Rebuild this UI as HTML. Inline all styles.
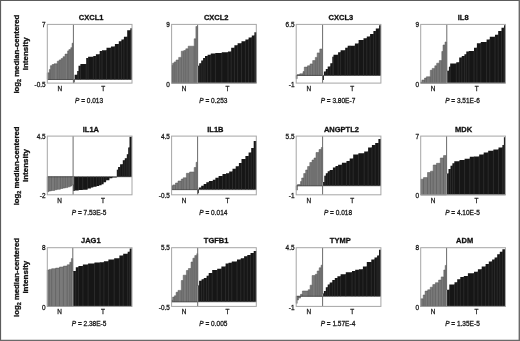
<!DOCTYPE html><html><head><meta charset="utf-8"><style>html,body{margin:0;padding:0;background:#fff;}svg{display:block;filter:grayscale(1) blur(0.35px);}text{font-family:"Liberation Sans",sans-serif;}</style></head><body>
<svg width="520" height="341" viewBox="0 0 520 341">
<rect x="0" y="0" width="520" height="341" fill="#fff"/>
<path d="M0,0.55 H520 M0.55,0 V341" stroke="#5c5c5c" stroke-width="1.1" fill="none"/>
<path d="M0,340.4 H520" stroke="#6a6a6a" stroke-width="1.3" fill="none"/>
<path d="M519.3,0 V341" stroke="#6a6a6a" stroke-width="1.4" fill="none"/>
<path fill="#7a7a7a" stroke="#555" stroke-width="0.5" d="M47.3,79.5 L47.3,72.8 L49.3,72.8 L49.3,69.6 L50.4,69.6 L50.4,65.7 L52.1,65.7 L52.1,64.5 L54,64.5 L54,63.8 L57.3,63.8 L57.3,61.2 L59.2,61.2 L59.2,59.9 L61.1,59.9 L61.1,58.6 L63,58.6 L63,56.7 L65,56.7 L65,54.1 L67.6,54.1 L67.6,50.9 L68.9,50.9 L68.9,49.6 L70.8,49.6 L70.8,47.7 L72.1,47.7 L72.1,43.2 L73.1,43.2 L73.1,79.5 Z"/><path fill="none" stroke="#5a5a5a" stroke-width="0.6" d="M49.3,72.8 V79.5 M50.4,69.6 V79.5 M52.1,65.7 V79.5 M54,64.5 V79.5 M57.3,63.8 V79.5 M59.2,61.2 V79.5 M61.1,59.9 V79.5 M63,58.6 V79.5 M65,56.7 V79.5 M67.6,54.1 V79.5 M68.9,50.9 V79.5 M70.8,49.6 V79.5 M72.1,47.7 V79.5"/><path fill="#161616" d="M73.4,79.5 L73.4,82.6 L74.6,82.6 L74.6,74.8 L77.2,74.8 L77.2,71 L78.5,71 L78.5,65.8 L80.4,65.8 L80.4,63.9 L86.2,63.9 L86.2,58 L88.1,58 L88.1,56.8 L93.3,56.8 L93.3,56.1 L95.9,56.1 L95.9,54.2 L99.7,54.2 L99.7,51 L102,51 L102,50.3 L106.5,50.3 L106.5,47.7 L111,47.7 L111,46.5 L114.9,46.5 L114.9,43.9 L118.8,43.9 L118.8,41.3 L121.4,41.3 L121.4,39.4 L123.9,39.4 L123.9,36.8 L127.2,36.8 L127.2,30.2 L130.4,30.2 L130.4,28.2 L131.9,28.2 L131.9,79.5 Z"/><path fill="none" stroke="#333" stroke-width="0.7" d="M77.2,74.8 V79.5 M78.5,71 V79.5 M80.4,65.8 V79.5 M86.2,63.9 V79.5 M88.1,58 V79.5 M93.3,56.8 V79.5 M95.9,56.1 V79.5 M99.7,54.2 V79.5 M102,51 V79.5 M106.5,50.3 V79.5 M111,47.7 V79.5 M114.9,46.5 V79.5 M118.8,43.9 V79.5 M121.4,41.3 V79.5 M123.9,39.4 V79.5 M127.2,36.8 V79.5 M130.4,30.2 V79.5"/><line x1="47.3" y1="79.5" x2="132" y2="79.5" stroke="#333" stroke-width="0.6"/><line x1="73.4" y1="24.4" x2="73.4" y2="83.1" stroke="#6c6c6c" stroke-width="1"/>
<rect x="47.3" y="24.4" width="84.7" height="58.7" fill="none" stroke="#a6a6a6" stroke-width="1"/>
<text transform="translate(91.15,20.2) scale(0.94,1)" font-size="8" font-weight="bold" text-anchor="middle" fill="#111" stroke="#111" stroke-width="0.3">CXCL1</text>
<text transform="translate(45.6,26.9) scale(0.92,1)" font-size="7" text-anchor="end" fill="#1a1a1a" stroke="#1a1a1a" stroke-width="0.3">7</text>
<text transform="translate(45.6,86.6) scale(0.92,1)" font-size="7" text-anchor="end" fill="#1a1a1a" stroke="#1a1a1a" stroke-width="0.3">-0.5</text>
<text transform="translate(59.75,90.8) scale(0.92,1)" font-size="7" text-anchor="middle" fill="#1a1a1a" stroke="#1a1a1a" stroke-width="0.3">N</text>
<text transform="translate(103.2,90.8) scale(0.92,1)" font-size="7" text-anchor="middle" fill="#1a1a1a" stroke="#1a1a1a" stroke-width="0.3">T</text>
<text transform="translate(89.05,103) scale(0.92,1)" font-size="7.1" text-anchor="middle" fill="#1a1a1a" stroke="#1a1a1a" stroke-width="0.3"><tspan font-style="italic">P</tspan> = 0.013</text>
<path fill="#7a7a7a" stroke="#555" stroke-width="0.5" d="M171.6,83.1 L171.6,65.2 L172.6,65.2 L172.6,63.2 L174.2,63.2 L174.2,61.9 L176.1,61.9 L176.1,60 L178.7,60 L178.7,57.4 L181.3,57.4 L181.3,51.2 L183.8,51.2 L183.8,50.5 L185.8,50.5 L185.8,48.8 L188.2,48.8 L188.2,46.2 L194.2,46.2 L194.2,38.8 L195.9,38.8 L195.9,26.5 L197.6,26.5 L197.6,83.1 Z"/><path fill="none" stroke="#5a5a5a" stroke-width="0.6" d="M172.6,65.2 V83.1 M174.2,63.2 V83.1 M176.1,61.9 V83.1 M178.7,60 V83.1 M181.3,57.4 V83.1 M183.8,51.2 V83.1 M185.8,50.5 V83.1 M188.2,48.8 V83.1 M194.2,46.2 V83.1 M195.9,38.8 V83.1"/><path fill="#161616" d="M197.6,83.1 L197.6,65.8 L199.2,65.8 L199.2,63.2 L201.2,63.2 L201.2,60.6 L203.1,60.6 L203.1,58.1 L205,58.1 L205,56.1 L207.6,56.1 L207.6,54.8 L210.8,54.8 L210.8,53.5 L215.4,53.5 L215.4,52.9 L221.8,52.9 L221.8,52.3 L228,52.3 L228,51.6 L231.2,51.6 L231.2,47.7 L234.4,47.7 L234.4,45.2 L237.6,45.2 L237.6,43.2 L241.5,43.2 L241.5,41.3 L245.4,41.3 L245.4,39.4 L248.6,39.4 L248.6,37.4 L251.8,37.4 L251.8,35.5 L254.4,35.5 L254.4,32.3 L256.7,32.3 L256.7,83.1 Z"/><path fill="none" stroke="#333" stroke-width="0.7" d="M199.2,65.8 V83.1 M201.2,63.2 V83.1 M203.1,60.6 V83.1 M205,58.1 V83.1 M207.6,56.1 V83.1 M210.8,54.8 V83.1 M215.4,53.5 V83.1 M221.8,52.9 V83.1 M228,52.3 V83.1 M231.2,51.6 V83.1 M234.4,47.7 V83.1 M237.6,45.2 V83.1 M241.5,43.2 V83.1 M245.4,41.3 V83.1 M248.6,39.4 V83.1 M251.8,37.4 V83.1 M254.4,35.5 V83.1"/><line x1="171.6" y1="83.1" x2="256.3" y2="83.1" stroke="#333" stroke-width="0.6"/><line x1="197.6" y1="24.4" x2="197.6" y2="83.1" stroke="#6c6c6c" stroke-width="1"/><line x1="197.6" y1="66.1" x2="197.6" y2="82.8" stroke="#9a9a9a" stroke-width="0.9"/>
<rect x="171.6" y="24.4" width="84.7" height="58.7" fill="none" stroke="#a6a6a6" stroke-width="1"/>
<text transform="translate(216.2,20.2) scale(0.94,1)" font-size="8" font-weight="bold" text-anchor="middle" fill="#111" stroke="#111" stroke-width="0.3">CXCL2</text>
<text transform="translate(169.9,26.9) scale(0.92,1)" font-size="7" text-anchor="end" fill="#1a1a1a" stroke="#1a1a1a" stroke-width="0.3">9</text>
<text transform="translate(169.9,86.6) scale(0.92,1)" font-size="7" text-anchor="end" fill="#1a1a1a" stroke="#1a1a1a" stroke-width="0.3">0</text>
<text transform="translate(184,90.8) scale(0.92,1)" font-size="7" text-anchor="middle" fill="#1a1a1a" stroke="#1a1a1a" stroke-width="0.3">N</text>
<text transform="translate(227.45,90.8) scale(0.92,1)" font-size="7" text-anchor="middle" fill="#1a1a1a" stroke="#1a1a1a" stroke-width="0.3">T</text>
<text transform="translate(213.35,103) scale(0.92,1)" font-size="7.1" text-anchor="middle" fill="#1a1a1a" stroke="#1a1a1a" stroke-width="0.3"><tspan font-style="italic">P</tspan> = 0.253</text>
<path fill="#7a7a7a" stroke="#555" stroke-width="0.5" d="M296.2,75.45 L296.2,78.7 L297.2,78.7 L297.2,74.6 L299.8,74.6 L299.8,73.8 L303,73.8 L303,71.6 L304.3,71.6 L304.3,67.1 L307.5,67.1 L307.5,65.8 L310.1,65.8 L310.1,63.9 L312.7,63.9 L312.7,60.6 L315.3,60.6 L315.3,57.4 L317.2,57.4 L317.2,52.9 L319.8,52.9 L319.8,49 L322.4,49 L322.4,75.45 Z"/><path fill="none" stroke="#5a5a5a" stroke-width="0.6" d="M299.8,74.6 V75.45 M303,73.8 V75.45 M304.3,71.6 V75.45 M307.5,67.1 V75.45 M310.1,65.8 V75.45 M312.7,63.9 V75.45 M315.3,60.6 V75.45 M317.2,57.4 V75.45 M319.8,52.9 V75.45"/><path fill="#161616" d="M322.6,75.45 L322.6,80 L323.9,80 L323.9,71.6 L325.8,71.6 L325.8,69 L327.7,69 L327.7,66.5 L330.3,66.5 L330.3,63.2 L332.3,63.2 L332.3,56.8 L333.5,56.8 L333.5,54.8 L338.1,54.8 L338.1,52.3 L340.6,52.3 L340.6,50.3 L345.2,50.3 L345.2,47.7 L347.7,47.7 L347.7,45.8 L350,45.8 L350,45.8 L354.9,45.8 L354.9,43.4 L358.6,43.4 L358.6,40.1 L363.5,40.1 L363.5,38.2 L366.8,38.2 L366.8,36.5 L370.1,36.5 L370.1,34 L373.4,34 L373.4,31 L375.8,31 L375.8,28.6 L379.1,28.6 L379.1,25.3 L381,25.3 L381,75.45 Z"/><path fill="none" stroke="#333" stroke-width="0.7" d="M325.8,71.6 V75.45 M327.7,69 V75.45 M330.3,66.5 V75.45 M332.3,63.2 V75.45 M333.5,56.8 V75.45 M338.1,54.8 V75.45 M340.6,52.3 V75.45 M345.2,50.3 V75.45 M347.7,47.7 V75.45 M350,45.8 V75.45 M354.9,45.8 V75.45 M358.6,43.4 V75.45 M363.5,40.1 V75.45 M366.8,38.2 V75.45 M370.1,36.5 V75.45 M373.4,34 V75.45 M375.8,31 V75.45 M379.1,28.6 V75.45"/><line x1="296.2" y1="75.45" x2="380.9" y2="75.45" stroke="#333" stroke-width="0.6"/><line x1="322.6" y1="24.4" x2="322.6" y2="83.1" stroke="#6c6c6c" stroke-width="1"/>
<rect x="296.2" y="24.4" width="84.7" height="58.7" fill="none" stroke="#a6a6a6" stroke-width="1"/>
<text transform="translate(340.9,20.2) scale(0.94,1)" font-size="8" font-weight="bold" text-anchor="middle" fill="#111" stroke="#111" stroke-width="0.3">CXCL3</text>
<text transform="translate(294.5,26.9) scale(0.92,1)" font-size="7" text-anchor="end" fill="#1a1a1a" stroke="#1a1a1a" stroke-width="0.3">6.5</text>
<text transform="translate(294.5,86.6) scale(0.92,1)" font-size="7" text-anchor="end" fill="#1a1a1a" stroke="#1a1a1a" stroke-width="0.3">-1</text>
<text transform="translate(308.8,90.8) scale(0.92,1)" font-size="7" text-anchor="middle" fill="#1a1a1a" stroke="#1a1a1a" stroke-width="0.3">N</text>
<text transform="translate(352.25,90.8) scale(0.92,1)" font-size="7" text-anchor="middle" fill="#1a1a1a" stroke="#1a1a1a" stroke-width="0.3">T</text>
<text transform="translate(337.95,103) scale(0.92,1)" font-size="7.1" text-anchor="middle" fill="#1a1a1a" stroke="#1a1a1a" stroke-width="0.3"><tspan font-style="italic">P</tspan> = 3.80E-7</text>
<path fill="#7a7a7a" stroke="#555" stroke-width="0.5" d="M420.7,83.1 L420.7,82 L421.9,82 L421.9,80 L424.5,80 L424.5,78.1 L426.4,78.1 L426.4,76.8 L430.3,76.8 L430.3,70.3 L432.2,70.3 L432.2,68.4 L434.8,68.4 L434.8,65.8 L436.7,65.8 L436.7,63.2 L439.3,63.2 L439.3,60.6 L441.8,60.6 L441.8,51.5 L443,51.5 L443,45 L445,45 L445,42 L446.6,42 L446.6,83.1 Z"/><path fill="none" stroke="#5a5a5a" stroke-width="0.6" d="M421.9,82 V83.1 M424.5,80 V83.1 M426.4,78.1 V83.1 M430.3,76.8 V83.1 M432.2,70.3 V83.1 M434.8,68.4 V83.1 M436.7,65.8 V83.1 M439.3,63.2 V83.1 M441.8,60.6 V83.1 M443,51.5 V83.1 M445,45 V83.1"/><path fill="#161616" d="M446.8,83.1 L446.8,70.8 L448.9,70.8 L448.9,66.7 L450.2,66.7 L450.2,63.4 L456.3,63.4 L456.3,62.3 L459.2,62.3 L459.2,57.6 L461.8,57.6 L461.8,56.1 L464.4,56.1 L464.4,54.2 L466.3,54.2 L466.3,51.6 L468.9,51.6 L468.9,51 L474,51 L474,47.7 L476.9,47.7 L476.9,43.2 L480.8,43.2 L480.8,41.9 L486.6,41.9 L486.6,39.4 L489.8,39.4 L489.8,36.8 L495,36.8 L495,34.8 L498.2,34.8 L498.2,31 L501.5,31 L501.5,27.7 L504,27.7 L504,25.2 L505.7,25.2 L505.7,83.1 Z"/><path fill="none" stroke="#333" stroke-width="0.7" d="M448.9,70.8 V83.1 M450.2,66.7 V83.1 M456.3,63.4 V83.1 M459.2,62.3 V83.1 M461.8,57.6 V83.1 M464.4,56.1 V83.1 M466.3,54.2 V83.1 M468.9,51.6 V83.1 M474,51 V83.1 M476.9,47.7 V83.1 M480.8,43.2 V83.1 M486.6,41.9 V83.1 M489.8,39.4 V83.1 M495,36.8 V83.1 M498.2,34.8 V83.1 M501.5,31 V83.1 M504,27.7 V83.1"/><line x1="420.7" y1="83.1" x2="505.4" y2="83.1" stroke="#333" stroke-width="0.6"/><line x1="446.8" y1="24.4" x2="446.8" y2="83.1" stroke="#6c6c6c" stroke-width="1"/><line x1="446.8" y1="71.1" x2="446.8" y2="82.8" stroke="#9a9a9a" stroke-width="0.9"/>
<rect x="420.7" y="24.4" width="84.7" height="58.7" fill="none" stroke="#a6a6a6" stroke-width="1"/>
<text transform="translate(463.2,20.2) scale(0.94,1)" font-size="8" font-weight="bold" text-anchor="middle" fill="#111" stroke="#111" stroke-width="0.3">IL8</text>
<text transform="translate(419,26.9) scale(0.92,1)" font-size="7" text-anchor="end" fill="#1a1a1a" stroke="#1a1a1a" stroke-width="0.3">9</text>
<text transform="translate(419,86.6) scale(0.92,1)" font-size="7" text-anchor="end" fill="#1a1a1a" stroke="#1a1a1a" stroke-width="0.3">0</text>
<text transform="translate(433.15,90.8) scale(0.92,1)" font-size="7" text-anchor="middle" fill="#1a1a1a" stroke="#1a1a1a" stroke-width="0.3">N</text>
<text transform="translate(476.6,90.8) scale(0.92,1)" font-size="7" text-anchor="middle" fill="#1a1a1a" stroke="#1a1a1a" stroke-width="0.3">T</text>
<text transform="translate(462.45,103) scale(0.92,1)" font-size="7.1" text-anchor="middle" fill="#1a1a1a" stroke="#1a1a1a" stroke-width="0.3"><tspan font-style="italic">P</tspan> = 3.51E-6</text>
<path fill="#7a7a7a" stroke="#555" stroke-width="0.5" d="M47.3,176.74 L47.3,191.7 L48.9,191.7 L48.9,190.9 L51.4,190.9 L51.4,190.5 L54.7,190.5 L54.7,189.7 L57.1,189.7 L57.1,189.3 L60.4,189.3 L60.4,188.5 L62.9,188.5 L62.9,188 L65.3,188 L65.3,187.6 L67.8,187.6 L67.8,186.8 L70.3,186.8 L70.3,186 L71.9,186 L71.9,184.8 L72.9,184.8 L72.9,176.74 Z"/><path fill="none" stroke="#5a5a5a" stroke-width="0.6" d="M48.9,176.74 V190.9 M51.4,176.74 V190.5 M54.7,176.74 V189.7 M57.1,176.74 V189.3 M60.4,176.74 V188.5 M62.9,176.74 V188 M65.3,176.74 V187.6 M67.8,176.74 V186.8 M70.3,176.74 V186 M71.9,176.74 V184.8"/><path fill="#161616" d="M73.1,176.74 L73.1,190.9 L74.5,190.9 L74.5,190.5 L78.6,190.5 L78.6,190.1 L82.7,190.1 L82.7,189.7 L87.6,189.7 L87.6,188.5 L90.9,188.5 L90.9,187.6 L93.3,187.6 L93.3,186.8 L96.6,186.8 L96.6,186 L99.1,186 L99.1,185.2 L101.5,185.2 L101.5,184.3 L103.6,184.3 L103.6,182.3 L106.1,182.3 L106.1,180.3 L109.4,180.3 L109.4,178.2 L112.3,178.2 L112.3,177.4 L116.8,177.4 L116.8,169.7 L118.1,169.7 L118.1,167 L120.1,167 L120.1,164.3 L122.8,164.3 L122.8,160.2 L124.8,160.2 L124.8,158.2 L126.8,158.2 L126.8,154.2 L128.2,154.2 L128.2,147.5 L129.5,147.5 L129.5,136.7 L131.9,136.7 L131.9,176.74 Z"/><path fill="none" stroke="#333" stroke-width="0.7" d="M74.5,176.74 V190.5 M78.6,176.74 V190.1 M82.7,176.74 V189.7 M87.6,176.74 V188.5 M90.9,176.74 V187.6 M93.3,176.74 V186.8 M96.6,176.74 V186 M99.1,176.74 V185.2 M101.5,176.74 V184.3 M103.6,176.74 V182.3 M106.1,176.74 V180.3 M109.4,176.74 V178.2 M112.3,176.74 V177.4 M118.1,169.7 V176.74 M120.1,167 V176.74 M122.8,164.3 V176.74 M124.8,160.2 V176.74 M126.8,158.2 V176.74 M128.2,154.2 V176.74 M129.5,147.5 V176.74"/><line x1="47.3" y1="176.74" x2="132" y2="176.74" stroke="#333" stroke-width="0.6"/><line x1="73.1" y1="136.1" x2="73.1" y2="194.8" stroke="#6c6c6c" stroke-width="1"/><line x1="73.1" y1="177.04" x2="73.1" y2="184.5" stroke="#9a9a9a" stroke-width="0.9"/>
<rect x="47.3" y="136.1" width="84.7" height="58.7" fill="none" stroke="#a6a6a6" stroke-width="1"/>
<text transform="translate(90.9,131.5) scale(0.94,1)" font-size="8" font-weight="bold" text-anchor="middle" fill="#111" stroke="#111" stroke-width="0.3">IL1A</text>
<text transform="translate(45.6,138.6) scale(0.92,1)" font-size="7" text-anchor="end" fill="#1a1a1a" stroke="#1a1a1a" stroke-width="0.3">4.5</text>
<text transform="translate(45.6,198.3) scale(0.92,1)" font-size="7" text-anchor="end" fill="#1a1a1a" stroke="#1a1a1a" stroke-width="0.3">-2</text>
<text transform="translate(59.6,202.5) scale(0.92,1)" font-size="7" text-anchor="middle" fill="#1a1a1a" stroke="#1a1a1a" stroke-width="0.3">N</text>
<text transform="translate(103.05,202.5) scale(0.92,1)" font-size="7" text-anchor="middle" fill="#1a1a1a" stroke="#1a1a1a" stroke-width="0.3">T</text>
<text transform="translate(89.05,214.7) scale(0.92,1)" font-size="7.1" text-anchor="middle" fill="#1a1a1a" stroke="#1a1a1a" stroke-width="0.3"><tspan font-style="italic">P</tspan> = 7.53E-5</text>
<path fill="#7a7a7a" stroke="#555" stroke-width="0.5" d="M171.6,189.6 L171.6,185.8 L172.9,185.8 L172.9,184.9 L175.5,184.9 L175.5,183 L178,183 L178,181 L181.3,181 L181.3,179.1 L183.2,179.1 L183.2,177.8 L186.4,177.8 L186.4,173.3 L189.6,173.3 L189.6,172 L194.2,172 L194.2,167.5 L196.1,167.5 L196.1,162.3 L197.5,162.3 L197.5,189.6 Z"/><path fill="none" stroke="#5a5a5a" stroke-width="0.6" d="M172.9,185.8 V189.6 M175.5,184.9 V189.6 M178,183 V189.6 M181.3,181 V189.6 M183.2,179.1 V189.6 M186.4,177.8 V189.6 M189.6,173.3 V189.6 M194.2,172 V189.6 M196.1,167.5 V189.6"/><path fill="#161616" d="M197.6,189.6 L197.6,193.3 L198.8,193.3 L198.8,187.5 L201.2,187.5 L201.2,185.8 L203.7,185.8 L203.7,184 L206.3,184 L206.3,182.3 L208.9,182.3 L208.9,181 L212.8,181 L212.8,179.7 L215.4,179.7 L215.4,177.8 L218.6,177.8 L218.6,175.9 L222.5,175.9 L222.5,174 L226,174 L226,173.3 L229.2,173.3 L229.2,171.4 L232.5,171.4 L232.5,168.8 L235.7,168.8 L235.7,166.2 L238.9,166.2 L238.9,163 L241.5,163 L241.5,159.1 L245.4,159.1 L245.4,155.9 L248.6,155.9 L248.6,152.6 L251.2,152.6 L251.2,148.1 L253.7,148.1 L253.7,141 L256.6,141 L256.6,189.6 Z"/><path fill="none" stroke="#333" stroke-width="0.7" d="M201.2,187.5 V189.6 M203.7,185.8 V189.6 M206.3,184 V189.6 M208.9,182.3 V189.6 M212.8,181 V189.6 M215.4,179.7 V189.6 M218.6,177.8 V189.6 M222.5,175.9 V189.6 M226,174 V189.6 M229.2,173.3 V189.6 M232.5,171.4 V189.6 M235.7,168.8 V189.6 M238.9,166.2 V189.6 M241.5,163 V189.6 M245.4,159.1 V189.6 M248.6,155.9 V189.6 M251.2,152.6 V189.6 M253.7,148.1 V189.6"/><line x1="171.6" y1="189.6" x2="256.3" y2="189.6" stroke="#333" stroke-width="0.6"/><line x1="197.6" y1="136.1" x2="197.6" y2="194.8" stroke="#6c6c6c" stroke-width="1"/>
<rect x="171.6" y="136.1" width="84.7" height="58.7" fill="none" stroke="#a6a6a6" stroke-width="1"/>
<text transform="translate(215.4,131.5) scale(0.94,1)" font-size="8" font-weight="bold" text-anchor="middle" fill="#111" stroke="#111" stroke-width="0.3">IL1B</text>
<text transform="translate(169.9,138.6) scale(0.92,1)" font-size="7" text-anchor="end" fill="#1a1a1a" stroke="#1a1a1a" stroke-width="0.3">4.5</text>
<text transform="translate(169.9,198.3) scale(0.92,1)" font-size="7" text-anchor="end" fill="#1a1a1a" stroke="#1a1a1a" stroke-width="0.3">-0.5</text>
<text transform="translate(184,202.5) scale(0.92,1)" font-size="7" text-anchor="middle" fill="#1a1a1a" stroke="#1a1a1a" stroke-width="0.3">N</text>
<text transform="translate(227.45,202.5) scale(0.92,1)" font-size="7" text-anchor="middle" fill="#1a1a1a" stroke="#1a1a1a" stroke-width="0.3">T</text>
<text transform="translate(213.35,214.7) scale(0.92,1)" font-size="7.1" text-anchor="middle" fill="#1a1a1a" stroke="#1a1a1a" stroke-width="0.3"><tspan font-style="italic">P</tspan> = 0.014</text>
<path fill="#7a7a7a" stroke="#555" stroke-width="0.5" d="M296.2,185.77 L296.2,190 L297.5,190 L297.5,184.5 L300.5,184.5 L300.5,181.5 L301.7,181.5 L301.7,178 L303.7,178 L303.7,173.5 L305.7,173.5 L305.7,170 L307.6,170 L307.6,166.5 L309.8,166.5 L309.8,162.5 L312,162.5 L312,160 L314,160 L314,158 L316,158 L316,152.5 L319,152.5 L319,149.5 L321.3,149.5 L321.3,147.5 L322.6,147.5 L322.6,185.77 Z"/><path fill="none" stroke="#5a5a5a" stroke-width="0.6" d="M300.5,184.5 V185.77 M301.7,181.5 V185.77 M303.7,178 V185.77 M305.7,173.5 V185.77 M307.6,170 V185.77 M309.8,166.5 V185.77 M312,162.5 V185.77 M314,160 V185.77 M316,158 V185.77 M319,152.5 V185.77 M321.3,149.5 V185.77"/><path fill="#161616" d="M322.6,185.77 L322.6,182 L324.3,182 L324.3,175.7 L325.8,175.7 L325.8,173.2 L327.7,173.2 L327.7,171.2 L329.7,171.2 L329.7,169.9 L332.9,169.9 L332.9,167.4 L335.5,167.4 L335.5,166.1 L338.1,166.1 L338.1,164.8 L341.9,164.8 L341.9,162.8 L346.5,162.8 L346.5,160.9 L349.7,160.9 L349.7,158.5 L353.2,158.5 L353.2,154.6 L358.4,154.6 L358.4,153.3 L364.2,153.3 L364.2,151.4 L368.1,151.4 L368.1,147.5 L371.9,147.5 L371.9,144.9 L375.2,144.9 L375.2,143 L378.4,143 L378.4,139.1 L381,139.1 L381,185.77 Z"/><path fill="none" stroke="#333" stroke-width="0.7" d="M324.3,182 V185.77 M325.8,175.7 V185.77 M327.7,173.2 V185.77 M329.7,171.2 V185.77 M332.9,169.9 V185.77 M335.5,167.4 V185.77 M338.1,166.1 V185.77 M341.9,164.8 V185.77 M346.5,162.8 V185.77 M349.7,160.9 V185.77 M353.2,158.5 V185.77 M358.4,154.6 V185.77 M364.2,153.3 V185.77 M368.1,151.4 V185.77 M371.9,147.5 V185.77 M375.2,144.9 V185.77 M378.4,143 V185.77"/><line x1="296.2" y1="185.77" x2="380.9" y2="185.77" stroke="#333" stroke-width="0.6"/><line x1="322.6" y1="136.1" x2="322.6" y2="194.8" stroke="#6c6c6c" stroke-width="1"/><line x1="322.6" y1="182.3" x2="322.6" y2="185.47" stroke="#9a9a9a" stroke-width="0.9"/>
<rect x="296.2" y="136.1" width="84.7" height="58.7" fill="none" stroke="#a6a6a6" stroke-width="1"/>
<text transform="translate(341.4,131.5) scale(0.94,1)" font-size="8" font-weight="bold" text-anchor="middle" fill="#111" stroke="#111" stroke-width="0.3">ANGPTL2</text>
<text transform="translate(294.5,138.6) scale(0.92,1)" font-size="7" text-anchor="end" fill="#1a1a1a" stroke="#1a1a1a" stroke-width="0.3">5.5</text>
<text transform="translate(294.5,198.3) scale(0.92,1)" font-size="7" text-anchor="end" fill="#1a1a1a" stroke="#1a1a1a" stroke-width="0.3">-1</text>
<text transform="translate(308.8,202.5) scale(0.92,1)" font-size="7" text-anchor="middle" fill="#1a1a1a" stroke="#1a1a1a" stroke-width="0.3">N</text>
<text transform="translate(352.25,202.5) scale(0.92,1)" font-size="7" text-anchor="middle" fill="#1a1a1a" stroke="#1a1a1a" stroke-width="0.3">T</text>
<text transform="translate(337.95,214.7) scale(0.92,1)" font-size="7.1" text-anchor="middle" fill="#1a1a1a" stroke="#1a1a1a" stroke-width="0.3"><tspan font-style="italic">P</tspan> = 0.018</text>
<path fill="#7a7a7a" stroke="#555" stroke-width="0.5" d="M420.7,194.8 L420.7,179.2 L423.5,179.2 L423.5,177.6 L427.5,177.6 L427.5,172.5 L430.5,172.5 L430.5,171.2 L433.2,171.2 L433.2,165 L436.5,165 L436.5,163.3 L440.3,163.3 L440.3,158 L443.5,158 L443.5,155.6 L446.4,155.6 L446.4,194.8 Z"/><path fill="none" stroke="#5a5a5a" stroke-width="0.6" d="M423.5,179.2 V194.8 M427.5,177.6 V194.8 M430.5,172.5 V194.8 M433.2,171.2 V194.8 M436.5,165 V194.8 M440.3,163.3 V194.8 M443.5,158 V194.8"/><path fill="#161616" d="M446.6,194.8 L446.6,173.5 L448.5,173.5 L448.5,169 L450.5,169 L450.5,165.8 L452.4,165.8 L452.4,163.2 L454.3,163.2 L454.3,161.3 L459.5,161.3 L459.5,160 L464.6,160 L464.6,158.7 L469.8,158.7 L469.8,156.8 L474,156.8 L474,156.5 L479.2,156.5 L479.2,154.6 L483.7,154.6 L483.7,152.6 L488.2,152.6 L488.2,150.7 L493.4,150.7 L493.4,149.4 L498.5,149.4 L498.5,147.5 L502.4,147.5 L502.4,144.9 L503.9,144.9 L503.9,137.2 L505.2,137.2 L505.2,194.8 Z"/><path fill="none" stroke="#333" stroke-width="0.7" d="M448.5,173.5 V194.8 M450.5,169 V194.8 M452.4,165.8 V194.8 M454.3,163.2 V194.8 M459.5,161.3 V194.8 M464.6,160 V194.8 M469.8,158.7 V194.8 M474,156.8 V194.8 M479.2,156.5 V194.8 M483.7,154.6 V194.8 M488.2,152.6 V194.8 M493.4,150.7 V194.8 M498.5,149.4 V194.8 M502.4,147.5 V194.8 M503.9,144.9 V194.8"/><line x1="420.7" y1="194.8" x2="505.4" y2="194.8" stroke="#333" stroke-width="0.6"/><line x1="446.6" y1="136.1" x2="446.6" y2="194.8" stroke="#6c6c6c" stroke-width="1"/><line x1="446.6" y1="173.8" x2="446.6" y2="194.5" stroke="#9a9a9a" stroke-width="0.9"/>
<rect x="420.7" y="136.1" width="84.7" height="58.7" fill="none" stroke="#a6a6a6" stroke-width="1"/>
<text transform="translate(463.55,131.5) scale(0.94,1)" font-size="8" font-weight="bold" text-anchor="middle" fill="#111" stroke="#111" stroke-width="0.3">MDK</text>
<text transform="translate(419,138.6) scale(0.92,1)" font-size="7" text-anchor="end" fill="#1a1a1a" stroke="#1a1a1a" stroke-width="0.3">7</text>
<text transform="translate(419,198.3) scale(0.92,1)" font-size="7" text-anchor="end" fill="#1a1a1a" stroke="#1a1a1a" stroke-width="0.3">0</text>
<text transform="translate(433.05,202.5) scale(0.92,1)" font-size="7" text-anchor="middle" fill="#1a1a1a" stroke="#1a1a1a" stroke-width="0.3">N</text>
<text transform="translate(476.5,202.5) scale(0.92,1)" font-size="7" text-anchor="middle" fill="#1a1a1a" stroke="#1a1a1a" stroke-width="0.3">T</text>
<text transform="translate(462.45,214.7) scale(0.92,1)" font-size="7.1" text-anchor="middle" fill="#1a1a1a" stroke="#1a1a1a" stroke-width="0.3"><tspan font-style="italic">P</tspan> = 4.10E-5</text>
<path fill="#7a7a7a" stroke="#555" stroke-width="0.5" d="M47.3,306.4 L47.3,270 L49.2,270 L49.2,269.4 L51.7,269.4 L51.7,268.7 L55.6,268.7 L55.6,268.1 L59.5,268.1 L59.5,267 L63.4,267 L63.4,266.1 L67.2,266.1 L67.2,264.8 L69.8,264.8 L69.8,262.3 L71.4,262.3 L71.4,258.6 L72.6,258.6 L72.6,306.4 Z"/><path fill="none" stroke="#5a5a5a" stroke-width="0.6" d="M49.2,270 V306.4 M51.7,269.4 V306.4 M55.6,268.7 V306.4 M59.5,268.1 V306.4 M63.4,267 V306.4 M67.2,266.1 V306.4 M69.8,264.8 V306.4 M71.4,262.3 V306.4"/><path fill="#161616" d="M72.8,306.4 L72.8,271.1 L75.8,271.1 L75.8,267.2 L78.4,267.2 L78.4,265.9 L82.9,265.9 L82.9,264.6 L88.1,264.6 L88.1,263.4 L94.5,263.4 L94.5,262.6 L100,262.6 L100,262.2 L103.9,262.2 L103.9,261.2 L108.4,261.2 L108.4,259.5 L114.2,259.5 L114.2,258.2 L119.4,258.2 L119.4,255.6 L123.2,255.6 L123.2,253.7 L127.7,253.7 L127.7,251.7 L129.7,251.7 L129.7,248.5 L131.8,248.5 L131.8,306.4 Z"/><path fill="none" stroke="#333" stroke-width="0.7" d="M75.8,271.1 V306.4 M78.4,267.2 V306.4 M82.9,265.9 V306.4 M88.1,264.6 V306.4 M94.5,263.4 V306.4 M100,262.6 V306.4 M103.9,262.2 V306.4 M108.4,261.2 V306.4 M114.2,259.5 V306.4 M119.4,258.2 V306.4 M123.2,255.6 V306.4 M127.7,253.7 V306.4 M129.7,251.7 V306.4"/><line x1="47.3" y1="306.4" x2="132" y2="306.4" stroke="#333" stroke-width="0.6"/><line x1="72.8" y1="247.7" x2="72.8" y2="306.4" stroke="#6c6c6c" stroke-width="1"/><line x1="72.8" y1="271.4" x2="72.8" y2="306.1" stroke="#9a9a9a" stroke-width="0.9"/>
<rect x="47.3" y="247.7" width="84.7" height="58.7" fill="none" stroke="#a6a6a6" stroke-width="1"/>
<text transform="translate(90.8,242.6) scale(0.94,1)" font-size="8" font-weight="bold" text-anchor="middle" fill="#111" stroke="#111" stroke-width="0.3">JAG1</text>
<text transform="translate(45.6,250.2) scale(0.92,1)" font-size="7" text-anchor="end" fill="#1a1a1a" stroke="#1a1a1a" stroke-width="0.3">8</text>
<text transform="translate(45.6,309.9) scale(0.92,1)" font-size="7" text-anchor="end" fill="#1a1a1a" stroke="#1a1a1a" stroke-width="0.3">0</text>
<text transform="translate(59.45,314.1) scale(0.92,1)" font-size="7" text-anchor="middle" fill="#1a1a1a" stroke="#1a1a1a" stroke-width="0.3">N</text>
<text transform="translate(102.9,314.1) scale(0.92,1)" font-size="7" text-anchor="middle" fill="#1a1a1a" stroke="#1a1a1a" stroke-width="0.3">T</text>
<text transform="translate(89.05,326.3) scale(0.92,1)" font-size="7.1" text-anchor="middle" fill="#1a1a1a" stroke="#1a1a1a" stroke-width="0.3"><tspan font-style="italic">P</tspan> = 2.38E-5</text>
<path fill="#7a7a7a" stroke="#555" stroke-width="0.5" d="M171.6,301.8 L171.6,300 L172.6,300 L172.6,297.1 L174.4,297.1 L174.4,295.8 L176.1,295.8 L176.1,292.3 L178,292.3 L178,290.4 L181.3,290.4 L181.3,280.5 L183.2,280.5 L183.2,275.2 L186.4,275.2 L186.4,270.5 L188.4,270.5 L188.4,268.5 L191,268.5 L191,262 L192.9,262 L192.9,258.2 L194.8,258.2 L194.8,255.6 L196.8,255.6 L196.8,253.7 L197.7,253.7 L197.7,301.8 Z"/><path fill="none" stroke="#5a5a5a" stroke-width="0.6" d="M172.6,300 V301.8 M174.4,297.1 V301.8 M176.1,295.8 V301.8 M178,292.3 V301.8 M181.3,290.4 V301.8 M183.2,280.5 V301.8 M186.4,275.2 V301.8 M188.4,270.5 V301.8 M191,268.5 V301.8 M192.9,262 V301.8 M194.8,258.2 V301.8 M196.8,255.6 V301.8"/><path fill="#161616" d="M197.7,301.8 L197.7,285.6 L199.1,285.6 L199.1,280.7 L201.6,280.7 L201.6,279.3 L203.8,279.3 L203.8,277.9 L206.6,277.9 L206.6,275.7 L208.7,275.7 L208.7,272.9 L212.2,272.9 L212.2,270.1 L217.2,270.1 L217.2,268.7 L221.4,268.7 L221.4,266.6 L225.6,266.6 L225.6,263.6 L228.6,263.6 L228.6,262.7 L231.8,262.7 L231.8,261.4 L237,261.4 L237,259.5 L240.8,259.5 L240.8,258.2 L244.1,258.2 L244.1,256.3 L247.3,256.3 L247.3,255 L250.5,255 L250.5,253 L253.7,253 L253.7,251.1 L256.6,251.1 L256.6,301.8 Z"/><path fill="none" stroke="#333" stroke-width="0.7" d="M199.1,285.6 V301.8 M201.6,280.7 V301.8 M203.8,279.3 V301.8 M206.6,277.9 V301.8 M208.7,275.7 V301.8 M212.2,272.9 V301.8 M217.2,270.1 V301.8 M221.4,268.7 V301.8 M225.6,266.6 V301.8 M228.6,263.6 V301.8 M231.8,262.7 V301.8 M237,261.4 V301.8 M240.8,259.5 V301.8 M244.1,258.2 V301.8 M247.3,256.3 V301.8 M250.5,255 V301.8 M253.7,253 V301.8"/><line x1="171.6" y1="301.8" x2="256.3" y2="301.8" stroke="#333" stroke-width="0.6"/><line x1="197.7" y1="247.7" x2="197.7" y2="306.4" stroke="#6c6c6c" stroke-width="1"/><line x1="197.7" y1="285.9" x2="197.7" y2="301.5" stroke="#9a9a9a" stroke-width="0.9"/>
<rect x="171.6" y="247.7" width="84.7" height="58.7" fill="none" stroke="#a6a6a6" stroke-width="1"/>
<text transform="translate(216.15,242.6) scale(0.94,1)" font-size="8" font-weight="bold" text-anchor="middle" fill="#111" stroke="#111" stroke-width="0.3">TGFB1</text>
<text transform="translate(169.9,250.2) scale(0.92,1)" font-size="7" text-anchor="end" fill="#1a1a1a" stroke="#1a1a1a" stroke-width="0.3">5.5</text>
<text transform="translate(169.9,309.9) scale(0.92,1)" font-size="7" text-anchor="end" fill="#1a1a1a" stroke="#1a1a1a" stroke-width="0.3">-0.5</text>
<text transform="translate(184.05,314.1) scale(0.92,1)" font-size="7" text-anchor="middle" fill="#1a1a1a" stroke="#1a1a1a" stroke-width="0.3">N</text>
<text transform="translate(227.5,314.1) scale(0.92,1)" font-size="7" text-anchor="middle" fill="#1a1a1a" stroke="#1a1a1a" stroke-width="0.3">T</text>
<text transform="translate(213.35,326.3) scale(0.92,1)" font-size="7.1" text-anchor="middle" fill="#1a1a1a" stroke="#1a1a1a" stroke-width="0.3"><tspan font-style="italic">P</tspan> = 0.005</text>
<path fill="#7a7a7a" stroke="#555" stroke-width="0.5" d="M296.2,296.3 L296.2,303.3 L297.2,303.3 L297.2,300 L298.5,300 L298.5,298.1 L300.5,298.1 L300.5,294.3 L302.4,294.3 L302.4,291 L308.2,291 L308.2,289.7 L310.1,289.7 L310.1,285.2 L312.1,285.2 L312.1,275.5 L315.3,275.5 L315.3,274.3 L317.2,274.3 L317.2,271 L319.2,271 L319.2,267.8 L321.1,267.8 L321.1,265.2 L322.5,265.2 L322.5,296.3 Z"/><path fill="none" stroke="#5a5a5a" stroke-width="0.6" d="M297.2,296.3 V300 M298.5,296.3 V298.1 M302.4,294.3 V296.3 M308.2,291 V296.3 M310.1,289.7 V296.3 M312.1,285.2 V296.3 M315.3,275.5 V296.3 M317.2,274.3 V296.3 M319.2,271 V296.3 M321.1,267.8 V296.3"/><path fill="#161616" d="M322.6,296.3 L322.6,293.6 L323.9,293.6 L323.9,291 L325.8,291 L325.8,287.2 L327.7,287.2 L327.7,284.6 L329.7,284.6 L329.7,282.6 L332.3,282.6 L332.3,280.1 L334.8,280.1 L334.8,278.1 L337.4,278.1 L337.4,276.2 L340.6,276.2 L340.6,274.3 L345.8,274.3 L345.8,272.3 L352,272.3 L352,271.1 L355.2,271.1 L355.2,269.8 L359,269.8 L359,269.2 L362.9,269.2 L362.9,266.6 L366.8,266.6 L366.8,262.1 L371.3,262.1 L371.3,259.5 L374.5,259.5 L374.5,257.5 L377.1,257.5 L377.1,255.6 L379,255.6 L379,249.8 L381,249.8 L381,296.3 Z"/><path fill="none" stroke="#333" stroke-width="0.7" d="M323.9,293.6 V296.3 M325.8,291 V296.3 M327.7,287.2 V296.3 M329.7,284.6 V296.3 M332.3,282.6 V296.3 M334.8,280.1 V296.3 M337.4,278.1 V296.3 M340.6,276.2 V296.3 M345.8,274.3 V296.3 M352,272.3 V296.3 M355.2,271.1 V296.3 M359,269.8 V296.3 M362.9,269.2 V296.3 M366.8,266.6 V296.3 M371.3,262.1 V296.3 M374.5,259.5 V296.3 M377.1,257.5 V296.3 M379,255.6 V296.3"/><line x1="296.2" y1="296.3" x2="380.9" y2="296.3" stroke="#333" stroke-width="0.6"/><line x1="322.6" y1="247.7" x2="322.6" y2="306.4" stroke="#6c6c6c" stroke-width="1"/><line x1="322.6" y1="293.9" x2="322.6" y2="296" stroke="#9a9a9a" stroke-width="0.9"/>
<rect x="296.2" y="247.7" width="84.7" height="58.7" fill="none" stroke="#a6a6a6" stroke-width="1"/>
<text transform="translate(340.3,242.6) scale(0.94,1)" font-size="8" font-weight="bold" text-anchor="middle" fill="#111" stroke="#111" stroke-width="0.3">TYMP</text>
<text transform="translate(294.5,250.2) scale(0.92,1)" font-size="7" text-anchor="end" fill="#1a1a1a" stroke="#1a1a1a" stroke-width="0.3">4.5</text>
<text transform="translate(294.5,309.9) scale(0.92,1)" font-size="7" text-anchor="end" fill="#1a1a1a" stroke="#1a1a1a" stroke-width="0.3">-1</text>
<text transform="translate(308.8,314.1) scale(0.92,1)" font-size="7" text-anchor="middle" fill="#1a1a1a" stroke="#1a1a1a" stroke-width="0.3">N</text>
<text transform="translate(352.25,314.1) scale(0.92,1)" font-size="7" text-anchor="middle" fill="#1a1a1a" stroke="#1a1a1a" stroke-width="0.3">T</text>
<text transform="translate(337.95,326.3) scale(0.92,1)" font-size="7.1" text-anchor="middle" fill="#1a1a1a" stroke="#1a1a1a" stroke-width="0.3"><tspan font-style="italic">P</tspan> = 1.57E-4</text>
<path fill="#7a7a7a" stroke="#555" stroke-width="0.5" d="M420.7,306.4 L420.7,298.8 L423.2,298.8 L423.2,295 L425.1,295 L425.1,291.1 L427.7,291.1 L427.7,289.8 L430.3,289.8 L430.3,287.2 L432.8,287.2 L432.8,284.6 L435.4,284.6 L435.4,282.7 L438.6,282.7 L438.6,280.1 L441.2,280.1 L441.2,276.9 L443.8,276.9 L443.8,270 L445.2,270 L445.2,265.4 L446.5,265.4 L446.5,306.4 Z"/><path fill="none" stroke="#5a5a5a" stroke-width="0.6" d="M423.2,298.8 V306.4 M425.1,295 V306.4 M427.7,291.1 V306.4 M430.3,289.8 V306.4 M432.8,287.2 V306.4 M435.4,284.6 V306.4 M438.6,282.7 V306.4 M441.2,280.1 V306.4 M443.8,276.9 V306.4 M445.2,270 V306.4"/><path fill="#161616" d="M446.6,306.4 L446.6,289.7 L449.3,289.7 L449.3,284.5 L454.5,284.5 L454.5,282.3 L457.2,282.3 L457.2,279.2 L460.3,279.2 L460.3,277 L463.8,277 L463.8,276 L467.9,276 L467.9,273.2 L474,273.2 L474,271.7 L477.9,271.7 L477.9,269.2 L481.7,269.2 L481.7,266.6 L485.6,266.6 L485.6,264 L488.8,264 L488.8,261.4 L492.1,261.4 L492.1,259.5 L494.6,259.5 L494.6,257.5 L497.2,257.5 L497.2,254.3 L499.8,254.3 L499.8,251.7 L502.4,251.7 L502.4,249.2 L505.2,249.2 L505.2,306.4 Z"/><path fill="none" stroke="#333" stroke-width="0.7" d="M449.3,289.7 V306.4 M454.5,284.5 V306.4 M457.2,282.3 V306.4 M460.3,279.2 V306.4 M463.8,277 V306.4 M467.9,276 V306.4 M474,273.2 V306.4 M477.9,271.7 V306.4 M481.7,269.2 V306.4 M485.6,266.6 V306.4 M488.8,264 V306.4 M492.1,261.4 V306.4 M494.6,259.5 V306.4 M497.2,257.5 V306.4 M499.8,254.3 V306.4 M502.4,251.7 V306.4"/><line x1="420.7" y1="306.4" x2="505.4" y2="306.4" stroke="#333" stroke-width="0.6"/><line x1="446.6" y1="247.7" x2="446.6" y2="306.4" stroke="#6c6c6c" stroke-width="1"/><line x1="446.6" y1="290" x2="446.6" y2="306.1" stroke="#9a9a9a" stroke-width="0.9"/>
<rect x="420.7" y="247.7" width="84.7" height="58.7" fill="none" stroke="#a6a6a6" stroke-width="1"/>
<text transform="translate(464.65,242.6) scale(0.94,1)" font-size="8" font-weight="bold" text-anchor="middle" fill="#111" stroke="#111" stroke-width="0.3">ADM</text>
<text transform="translate(419,250.2) scale(0.92,1)" font-size="7" text-anchor="end" fill="#1a1a1a" stroke="#1a1a1a" stroke-width="0.3">8</text>
<text transform="translate(419,309.9) scale(0.92,1)" font-size="7" text-anchor="end" fill="#1a1a1a" stroke="#1a1a1a" stroke-width="0.3">0</text>
<text transform="translate(433.05,314.1) scale(0.92,1)" font-size="7" text-anchor="middle" fill="#1a1a1a" stroke="#1a1a1a" stroke-width="0.3">N</text>
<text transform="translate(476.5,314.1) scale(0.92,1)" font-size="7" text-anchor="middle" fill="#1a1a1a" stroke="#1a1a1a" stroke-width="0.3">T</text>
<text transform="translate(462.45,326.3) scale(0.92,1)" font-size="7.1" text-anchor="middle" fill="#1a1a1a" stroke="#1a1a1a" stroke-width="0.3"><tspan font-style="italic">P</tspan> = 1.35E-5</text>
<g transform="translate(19.1,54.15) rotate(-90) scale(0.972,1)"><text x="0" y="0" font-size="8" font-weight="bold" text-anchor="middle" fill="#111" stroke="#111" stroke-width="0.3">log<tspan font-size="5.5" dy="1.8">2</tspan><tspan dy="-1.8"> median-centered</tspan></text></g>
<g transform="translate(27.6,53.85) rotate(-90)"><text x="0" y="0" font-size="8" font-weight="bold" text-anchor="middle" fill="#111" stroke="#111" stroke-width="0.3">intensity</text></g>
<g transform="translate(19.1,165.85) rotate(-90) scale(0.972,1)"><text x="0" y="0" font-size="8" font-weight="bold" text-anchor="middle" fill="#111" stroke="#111" stroke-width="0.3">log<tspan font-size="5.5" dy="1.8">2</tspan><tspan dy="-1.8"> median-centered</tspan></text></g>
<g transform="translate(27.6,165.55) rotate(-90)"><text x="0" y="0" font-size="8" font-weight="bold" text-anchor="middle" fill="#111" stroke="#111" stroke-width="0.3">intensity</text></g>
<g transform="translate(19.1,277.45) rotate(-90) scale(0.972,1)"><text x="0" y="0" font-size="8" font-weight="bold" text-anchor="middle" fill="#111" stroke="#111" stroke-width="0.3">log<tspan font-size="5.5" dy="1.8">2</tspan><tspan dy="-1.8"> median-centered</tspan></text></g>
<g transform="translate(27.6,277.15) rotate(-90)"><text x="0" y="0" font-size="8" font-weight="bold" text-anchor="middle" fill="#111" stroke="#111" stroke-width="0.3">intensity</text></g>
</svg></body></html>
